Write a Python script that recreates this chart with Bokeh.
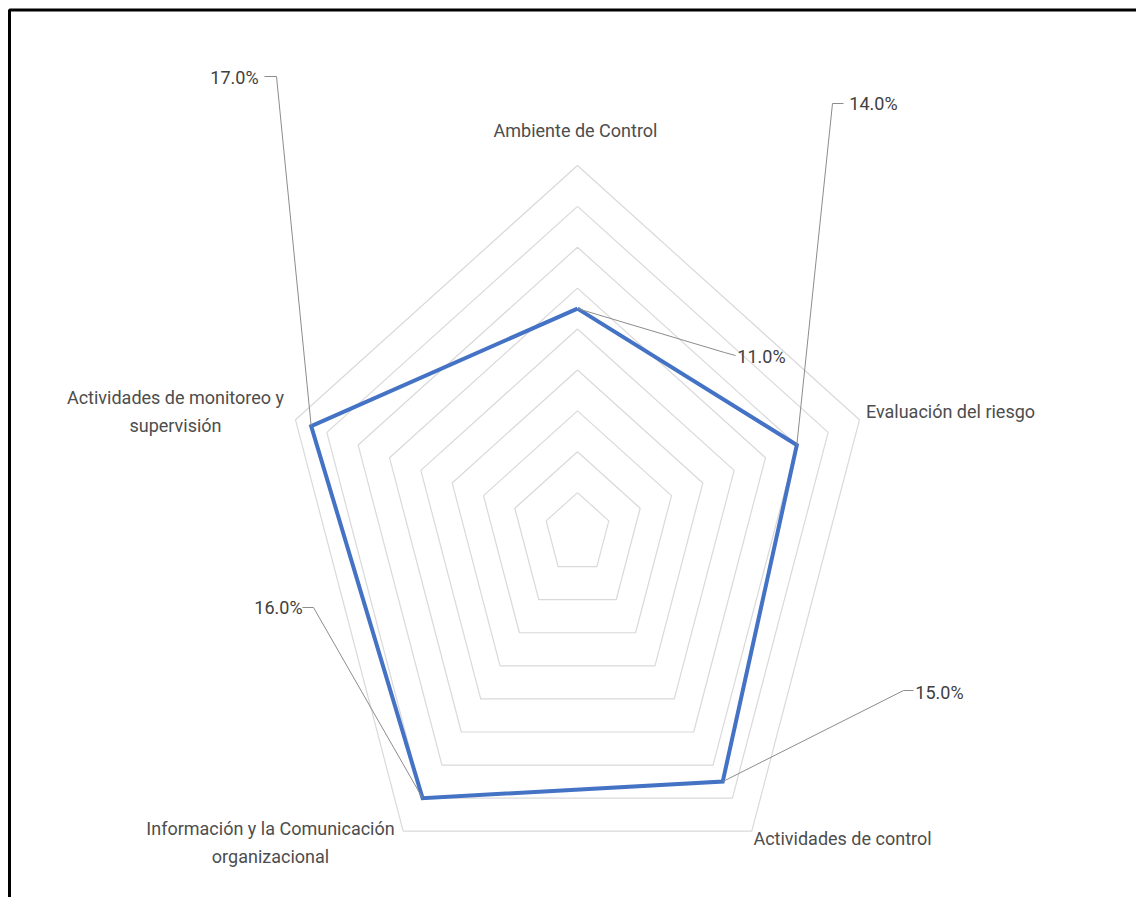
import numpy as np
from bokeh.plotting import figure
from bokeh.models import Range1d
from bokeh.core.properties import value
from bokeh.embed import file_html
from bokeh.resources import INLINE

# ---------------- data ----------------
categories = [
    "Ambiente de Control",
    "Evaluación del riesgo",
    "Actividades de control",
    "Información y la Comunicación\norganizacional",
    "Actividades de monitoreo y\nsupervisión",
]
values = [11.0, 14.0, 15.0, 16.0, 17.0]
value_labels = ["11.0%", "14.0%", "15.0%", "16.0%", "17.0%"]
grid_levels = [2, 4, 6, 8, 10, 12, 14, 16, 18]

# ---------------- layout ----------------
W, H = 1136, 897
CX, CY = 577.0, 533.0          # centre of radar in page pixels
KY = 368.0 / 18.0              # px per unit vertically
KX = 296.5 / 18.0              # px per unit horizontally (chart is squashed)

def X(px):
    return (px - CX) / KX

def Y(py):
    return (CY - py) / KY

FONT = "Roboto"

p = figure(width=W, height=H, output_backend="svg", toolbar_location=None,
           x_range=Range1d(-CX / KX, (W - CX) / KX),
           y_range=Range1d(-(H - CY) / KY, CY / KY),
           min_border=0)
p.axis.visible = False
p.grid.visible = False
p.outline_line_color = None
p.background_fill_color = "white"
p.border_fill_color = "white"

n = len(categories)
theta = np.arange(n) * 2 * np.pi / n

# grid pentagons
gx, gy = [], []
for lv in grid_levels:
    gx.append(list(lv * np.sin(theta)) + [lv * np.sin(theta[0])])
    gy.append(list(lv * np.cos(theta)) + [lv * np.cos(theta[0])])
p.multi_line(gx, gy, line_color="#d9d9d9", line_width=1.2)

# data series
vals = np.array(values)
dx = vals * np.sin(theta)
dy = vals * np.cos(theta)
p.line(list(dx) + [dx[0]], list(dy) + [dy[0]], line_color="#4472C4", line_width=4,
       line_join="miter")

# data labels with leader lines (label layout in page pixels)
label_pos = [(761, 356), (873, 103), (939, 692), (278, 607), (234, 77)]
leader_knee = [[(735, 355), (724, 352)], [(843, 103), (832, 103)],
               [(913, 690), (903, 690)], [(302, 607), (313, 607)],
               [(264, 76), (276, 76)]]
lx, ly = [], []
for i in range(n):
    xs = [X(a) for a, b in leader_knee[i]] + [dx[i]]
    ys = [Y(b) for a, b in leader_knee[i]] + [dy[i]]
    lx.append(xs)
    ly.append(ys)
p.multi_line(lx, ly, line_color="#8c8c8c", line_width=1)
p.text([X(a) for a, b in label_pos], [Y(b) for a, b in label_pos], text=value_labels,
       text_align="center", text_baseline="middle", text_color="#404040",
       text_font=value(FONT), text_font_size="18px")

# category labels
cat_pos = [(575, 130), (950, 411), (842, 838), (270, 842), (175, 411)]
p.text([X(a) for a, b in cat_pos], [Y(b) for a, b in cat_pos], text=categories,
       text_align="center", text_baseline="middle", text_color="#4d4d4d",
       text_font=value(FONT), text_font_size="18px", text_line_height=1.35)

# frame border (top and left only visible)
p.line([X(9), X(9), X(1140)], [Y(900), Y(9.5), Y(9.5)], line_color="black", line_width=3)

open("out.html", "w").write(file_html(p, INLINE))
